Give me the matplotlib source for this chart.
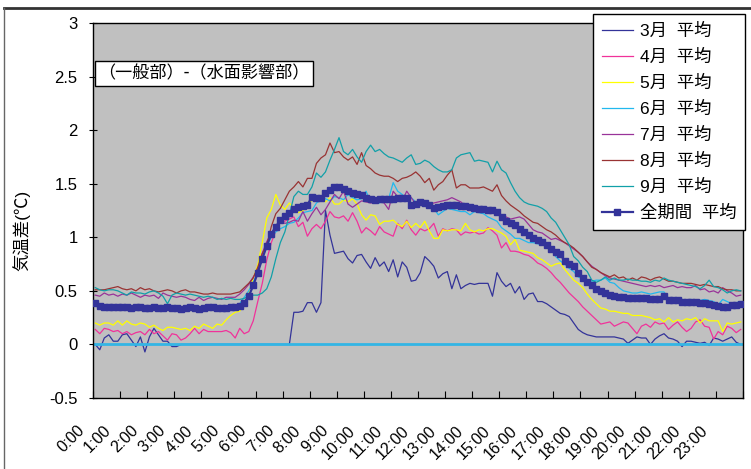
import numpy as np
import matplotlib
matplotlib.use("Agg")
import matplotlib.pyplot as plt
import matplotlib.transforms as mtransforms
from matplotlib.lines import Line2D

plt.rcParams['font.family'] = ['Liberation Sans', 'Noto Sans CJK JP', 'DejaVu Sans']

# 10-minute averages, 0:00 .. 23:50 (144 points per series)
mar = [0.00, -0.05, 0.06, 0.09, 0.03, 0.03, 0.09, 0.10, 0.04, -0.02, 0.07, -0.07,
       0.07, 0.15, 0.09, 0.03, 0.03, -0.02, -0.02, 0.00, 0.00, 0.00, 0.00, 0.00,
       0.00, 0.00, 0.00, 0.00, 0.00, 0.00, 0.00, 0.00, 0.00, 0.00, 0.00, 0.00,
       0.00, 0.00, 0.00, 0.00, 0.00, 0.00, 0.00, 0.00, 0.30, 0.30, 0.31, 0.39,
       0.39, 0.30, 0.39, 1.25, 1.02, 0.85, 0.86, 0.87, 0.80, 0.76, 0.83, 0.84,
       0.77, 0.71, 0.81, 0.73, 0.77, 0.68, 0.79, 0.63, 0.77, 0.72, 0.59, 0.60,
       0.67, 0.82, 0.78, 0.73, 0.62, 0.66, 0.68, 0.52, 0.65, 0.52, 0.55, 0.57,
       0.56, 0.57, 0.57, 0.57, 0.45, 0.67, 0.59, 0.54, 0.57, 0.48, 0.54, 0.42,
       0.47, 0.48, 0.40, 0.40, 0.38, 0.35, 0.32, 0.29, 0.28, 0.26, 0.20, 0.14,
       0.11, 0.09, 0.08, 0.07, 0.07, 0.07, 0.07, 0.07, 0.06, 0.05, 0.01, 0.04,
       0.07, 0.06, 0.06, 0.00, 0.05, 0.08, 0.10, 0.06, 0.05, 0.03, -0.02, 0.03,
       0.03, 0.02, 0.01, 0.02, -0.01, 0.06, 0.05, 0.03, 0.05, 0.07, 0.02, 0.00]

apr = [0.14, 0.10, 0.15, 0.14, 0.12, 0.13, 0.10, 0.12, 0.09, 0.11, 0.12, 0.09,
       0.14, 0.10, 0.12, 0.08, 0.04, 0.10, 0.09, 0.04, 0.06, 0.10, 0.15, 0.10,
       0.14, 0.12, 0.12, 0.12, 0.12, 0.13, 0.11, 0.06, 0.15, 0.10, 0.12, 0.22,
       0.40, 0.57, 0.79, 0.95, 1.06, 1.14, 1.15, 1.17, 1.19, 1.10, 1.14, 1.01,
       1.08, 1.12, 1.08, 1.15, 1.24, 1.19, 1.18, 1.20, 1.15, 1.23, 1.15, 1.04,
       1.09, 1.06, 1.02, 1.10, 1.05, 1.03, 1.01, 1.13, 1.08, 1.16, 1.07, 1.02,
       1.08, 1.06, 1.08, 1.13, 1.01, 1.08, 1.06, 1.08, 1.07, 1.02, 1.05, 1.04,
       1.05, 1.03, 1.04, 1.09, 1.06, 1.02, 0.90, 0.95, 0.87, 0.87, 0.86, 0.84,
       0.83, 0.80, 0.76, 0.74, 0.71, 0.67, 0.62, 0.58, 0.53, 0.48, 0.44, 0.40,
       0.35, 0.31, 0.27, 0.23, 0.19, 0.20, 0.21, 0.17, 0.19, 0.21, 0.20, 0.15,
       0.10, 0.17, 0.19, 0.16, 0.21, 0.19, 0.20, 0.14, 0.18, 0.21, 0.16, 0.12,
       0.15, 0.21, 0.23, 0.17, 0.16, 0.05, 0.12, 0.09, 0.17, 0.15, 0.11, 0.14]

may = [0.20, 0.18, 0.20, 0.20, 0.18, 0.22, 0.18, 0.22, 0.19, 0.18, 0.20, 0.19,
       0.16, 0.18, 0.15, 0.13, 0.16, 0.16, 0.15, 0.14, 0.15, 0.13, 0.17, 0.15,
       0.19, 0.17, 0.15, 0.19, 0.18, 0.23, 0.27, 0.30, 0.31, 0.38, 0.48, 0.62,
       0.74, 0.95, 1.18, 1.26, 1.40, 1.30, 1.26, 1.32, 1.27, 1.23, 1.25, 1.28,
       1.35, 1.35, 1.38, 1.33, 1.37, 1.31, 1.31, 1.35, 1.33, 1.36, 1.31, 1.21,
       1.16, 1.21, 1.20, 1.12, 1.15, 1.15, 1.16, 1.12, 1.10, 1.15, 1.09, 1.13,
       1.09, 1.15, 1.06, 0.99, 0.99, 1.07, 1.06, 1.07, 1.07, 1.06, 1.13, 1.07,
       1.05, 1.07, 1.06, 1.08, 1.08, 1.06, 1.04, 1.01, 0.93, 0.98, 0.88, 0.87,
       0.86, 0.85, 0.81, 0.79, 0.76, 0.73, 0.75, 0.76, 0.70, 0.65, 0.60, 0.57,
       0.53, 0.47, 0.42, 0.38, 0.34, 0.33, 0.31, 0.31, 0.30, 0.29, 0.29, 0.27,
       0.27, 0.27, 0.26, 0.25, 0.23, 0.24, 0.21, 0.25, 0.21, 0.23, 0.22, 0.24,
       0.23, 0.25, 0.20, 0.24, 0.22, 0.22, 0.22, 0.12, 0.20, 0.19, 0.20, 0.21]

jun = [0.36, 0.34, 0.34, 0.33, 0.34, 0.33, 0.34, 0.33, 0.33, 0.34, 0.32, 0.33,
       0.33, 0.32, 0.31, 0.33, 0.34, 0.32, 0.33, 0.33, 0.32, 0.33, 0.32, 0.33,
       0.33, 0.32, 0.33, 0.34, 0.34, 0.33, 0.34, 0.36, 0.38, 0.44, 0.50, 0.58,
       0.68, 0.80, 0.92, 1.00, 1.05, 1.08, 1.10, 1.13, 1.14, 1.18, 1.23, 1.24,
       1.25, 1.32, 1.35, 1.36, 1.34, 1.38, 1.37, 1.35, 1.40, 1.37, 1.35, 1.36,
       1.43, 1.33, 1.36, 1.32, 1.35, 1.36, 1.51, 1.43, 1.40, 1.36, 1.37, 1.33,
       1.30, 1.29, 1.28, 1.27, 1.21, 1.24, 1.27, 1.26, 1.25, 1.24, 1.24, 1.21,
       1.24, 1.23, 1.22, 1.19, 1.17, 1.15, 1.09, 1.06, 1.03, 0.99, 0.99, 0.97,
       0.95, 0.95, 0.94, 0.93, 0.92, 0.89, 0.82, 0.78, 0.75, 0.71, 0.68, 0.63,
       0.61, 0.60, 0.59, 0.60, 0.60, 0.62, 0.58, 0.57, 0.53, 0.50, 0.49, 0.48,
       0.48, 0.49, 0.48, 0.47, 0.48, 0.49, 0.49, 0.43, 0.42, 0.42, 0.42, 0.41,
       0.42, 0.41, 0.41, 0.42, 0.41, 0.40, 0.37, 0.42, 0.40, 0.38, 0.39, 0.40]

jul = [0.46, 0.45, 0.48, 0.46, 0.47, 0.45, 0.47, 0.46, 0.48, 0.46, 0.44, 0.46,
       0.45, 0.46, 0.43, 0.48, 0.46, 0.45, 0.44, 0.45, 0.44, 0.42, 0.41, 0.44,
       0.41, 0.43, 0.44, 0.43, 0.42, 0.44, 0.44, 0.44, 0.47, 0.51, 0.56, 0.63,
       0.70, 0.85, 0.96, 1.04, 1.10, 1.15, 1.13, 1.14, 1.16, 1.15, 1.24, 1.15,
       1.22, 1.28, 1.21, 1.26, 1.33, 1.40, 1.36, 1.43, 1.31, 1.28, 1.31, 1.34,
       1.33, 1.32, 1.33, 1.34, 1.32, 1.26, 1.43, 1.38, 1.34, 1.43, 1.37, 1.31,
       1.30, 1.29, 1.31, 1.32, 1.33, 1.34, 1.35, 1.37, 1.35, 1.33, 1.29, 1.27,
       1.28, 1.27, 1.26, 1.24, 1.24, 1.22, 1.20, 1.19, 1.17, 1.18, 1.19, 1.17,
       1.12, 1.07, 1.05, 1.04, 1.01, 0.98, 0.99, 0.97, 0.95, 0.92, 0.89, 0.86,
       0.82, 0.77, 0.73, 0.70, 0.67, 0.64, 0.62, 0.61, 0.60, 0.59, 0.58, 0.57,
       0.56, 0.55, 0.54, 0.55, 0.54, 0.55, 0.53, 0.54, 0.55, 0.53, 0.54, 0.53,
       0.53, 0.55, 0.51, 0.52, 0.49, 0.50, 0.48, 0.53, 0.50, 0.48, 0.45, 0.46]

aug = [0.51, 0.51, 0.51, 0.52, 0.53, 0.54, 0.52, 0.51, 0.52, 0.50, 0.53, 0.51,
       0.52, 0.50, 0.49, 0.50, 0.51, 0.50, 0.48, 0.50, 0.51, 0.49, 0.49, 0.48,
       0.47, 0.47, 0.48, 0.47, 0.47, 0.47, 0.47, 0.48, 0.49, 0.53, 0.57, 0.62,
       0.72, 0.85, 0.93, 1.10, 1.22, 1.27, 1.35, 1.43, 1.47, 1.52, 1.47, 1.55,
       1.55, 1.69, 1.74, 1.77, 1.88, 1.79, 1.80, 1.75, 1.72, 1.75, 1.68, 1.79,
       1.67, 1.64, 1.60, 1.58, 1.57, 1.57, 1.55, 1.52, 1.55, 1.56, 1.58, 1.61,
       1.57, 1.51, 1.55, 1.44, 1.49, 1.52, 1.58, 1.63, 1.46, 1.49, 1.49, 1.46,
       1.46, 1.46, 1.47, 1.45, 1.43, 1.49, 1.39, 1.34, 1.30, 1.27, 1.24, 1.20,
       1.17, 1.14, 1.13, 1.10, 1.07, 1.05, 1.02, 0.98, 0.95, 0.93, 0.90, 0.86,
       0.82, 0.77, 0.72, 0.70, 0.67, 0.65, 0.63, 0.65, 0.62, 0.63, 0.60, 0.62,
       0.60, 0.63, 0.62, 0.60, 0.62, 0.63, 0.61, 0.59, 0.59, 0.58, 0.57, 0.57,
       0.57, 0.56, 0.55, 0.56, 0.55, 0.54, 0.54, 0.52, 0.51, 0.51, 0.50, 0.50]

sep = [0.53, 0.51, 0.50, 0.51, 0.51, 0.50, 0.48, 0.46, 0.49, 0.48, 0.48, 0.47,
       0.49, 0.50, 0.48, 0.45, 0.38, 0.46, 0.48, 0.47, 0.46, 0.47, 0.46, 0.45,
       0.44, 0.45, 0.44, 0.42, 0.43, 0.42, 0.43, 0.42, 0.42, 0.43, 0.45, 0.46,
       0.46, 0.48, 0.52, 0.63, 0.80, 0.95, 1.05, 1.21, 1.38, 1.43, 1.40, 1.40,
       1.47, 1.60, 1.56, 1.61, 1.72, 1.82, 1.93, 1.80, 1.77, 1.82, 1.75, 1.70,
       1.80, 1.86, 1.80, 1.82, 1.78, 1.75, 1.74, 1.72, 1.70, 1.74, 1.77, 1.68,
       1.69, 1.72, 1.70, 1.66, 1.63, 1.61, 1.61, 1.63, 1.74, 1.77, 1.78, 1.79,
       1.71, 1.72, 1.71, 1.70, 1.61, 1.71, 1.63, 1.60, 1.51, 1.43, 1.37, 1.33,
       1.31, 1.30, 1.29, 1.27, 1.24, 1.18, 1.14, 1.07, 1.00, 0.93, 0.82, 0.78,
       0.72, 0.68, 0.60, 0.58, 0.60, 0.63, 0.60, 0.62, 0.60, 0.60, 0.61, 0.60,
       0.60, 0.59, 0.59, 0.58, 0.60, 0.59, 0.62, 0.60, 0.59, 0.58, 0.57, 0.56,
       0.55, 0.54, 0.52, 0.55, 0.60, 0.54, 0.53, 0.51, 0.48, 0.50, 0.51, 0.50]

total = [0.39, 0.36, 0.35, 0.35, 0.35, 0.35, 0.35, 0.35, 0.34, 0.35, 0.35, 0.34,
         0.34, 0.35, 0.34, 0.34, 0.35, 0.34, 0.34, 0.33, 0.34, 0.35, 0.34, 0.33,
         0.34, 0.35, 0.35, 0.34, 0.34, 0.34, 0.35, 0.35, 0.36, 0.39, 0.45, 0.55,
         0.67, 0.80, 0.92, 1.03, 1.10, 1.16, 1.20, 1.23, 1.26, 1.28, 1.29, 1.30,
         1.38, 1.37, 1.37, 1.41, 1.44, 1.47, 1.47, 1.45, 1.43, 1.41, 1.40, 1.39,
         1.37, 1.36, 1.35, 1.36, 1.36, 1.36, 1.36, 1.37, 1.37, 1.37, 1.30, 1.31,
         1.33, 1.32, 1.30, 1.27, 1.28, 1.29, 1.30, 1.30, 1.30, 1.29, 1.29, 1.28,
         1.27, 1.26, 1.26, 1.25, 1.25, 1.24, 1.19, 1.15, 1.13, 1.11, 1.08, 1.05,
         1.02, 0.99, 0.97, 0.96, 0.93, 0.89, 0.86, 0.84, 0.78, 0.75, 0.73, 0.67,
         0.62, 0.58, 0.55, 0.52, 0.50, 0.48, 0.46, 0.45, 0.44, 0.44, 0.43, 0.43,
         0.43, 0.43, 0.43, 0.42, 0.42, 0.42, 0.45, 0.41, 0.41, 0.41, 0.40, 0.40,
         0.40, 0.40, 0.39, 0.39, 0.38, 0.37, 0.36, 0.35, 0.35, 0.37, 0.37, 0.38]

months = [mar, apr, may, jun, jul, aug, sep]
labels = ["3月  平均", "4月  平均", "5月  平均", "6月  平均", "7月  平均", "8月  平均", "9月  平均"]
colors = ["#333399", "#F0329A", "#FFFF00", "#22B8EE", "#993399", "#993333", "#11A0A8"]
hour_labels = ["%d:00" % h for h in range(24)]

W, H = 751, 469
fig = plt.figure(figsize=(W / 100, H / 100), dpi=100)
ax = fig.add_axes([93 / W, 1 - 398 / H, (743 - 93) / W, (398 - 23) / H])
ax.set_facecolor("#C0C0C0")

x = np.arange(len(total))
for vals, lab, col in zip(months, labels, colors):
    ax.plot(x, vals, color=col, lw=0.9, label=lab, zorder=2)
ax.axhline(0, color="#33B5E5", lw=2, zorder=2.5)
ax.plot(x, total, color="#333399", lw=1.6, marker="s", ms=4.5,
        label="全期間  平均", zorder=3)

ax.set_xlim(-0.5, len(total) - 0.5)
ax.set_ylim(-0.5, 3)
ax.set_yticks(np.arange(-0.5, 3.01, 0.5))
ax.set_yticklabels(["-0.5", "0", "0.5", "1", "1.5", "2", "2.5", "3"])
ax.tick_params(axis="y", direction="inout", length=6, pad=8, labelsize=12)

# tick marks between categories, labels on the hour
ax.set_xticks(np.arange(-0.5, len(total), 6))
ax.set_xticklabels([])
ax.tick_params(axis="x", which="major", direction="in", length=5)
ax.set_xticks(np.arange(0, len(total), 6), minor=True)
ax.set_xticklabels(hour_labels, minor=True, rotation=45, ha="right", va="top",
                   fontsize=11.5)
ax.tick_params(axis="x", which="minor", length=0, pad=18)
shift = mtransforms.ScaledTranslation(-0.08, 0, fig.dpi_scale_trans)
for t in ax.get_xticklabels(minor=True):
    t.set_transform(t.get_transform() + shift)

for s in ax.spines.values():
    s.set_color("black")
    s.set_linewidth(1)

fig.text(21 / W, 1 - 230 / H, "気温差(℃)", rotation=90, ha="center", va="center",
         fontsize=12.5)

ax.text(0.008, 0.865, "（一般部）-（水面影響部）", transform=ax.transAxes,
        ha="left", va="center", fontsize=12.3, family=["Noto Sans CJK JP", "DejaVu Sans"],
        bbox=dict(boxstyle="square,pad=0.2", fc="white", ec="black", lw=1), zorder=5)

leg = ax.legend(loc="upper left", bbox_to_anchor=(593 / W, 1 - 14 / H),
                bbox_transform=fig.transFigure, fontsize=12.5, fancybox=False,
                framealpha=1, edgecolor="black", labelspacing=0.57,
                handlelength=1.8, handletextpad=0.4, borderpad=0.5,
                borderaxespad=0)
leg.get_frame().set_linewidth(1)
leg.set_zorder(6)

# chart area frame
fig.add_artist(Line2D([4 / W, 1], [1 - 8.5 / H, 1 - 8.5 / H], color="#333333", lw=2))
fig.add_artist(Line2D([4 / W, 4 / W], [0, 1 - 8.5 / H], color="#666666", lw=1))

fig.savefig("out.png", dpi=100)
